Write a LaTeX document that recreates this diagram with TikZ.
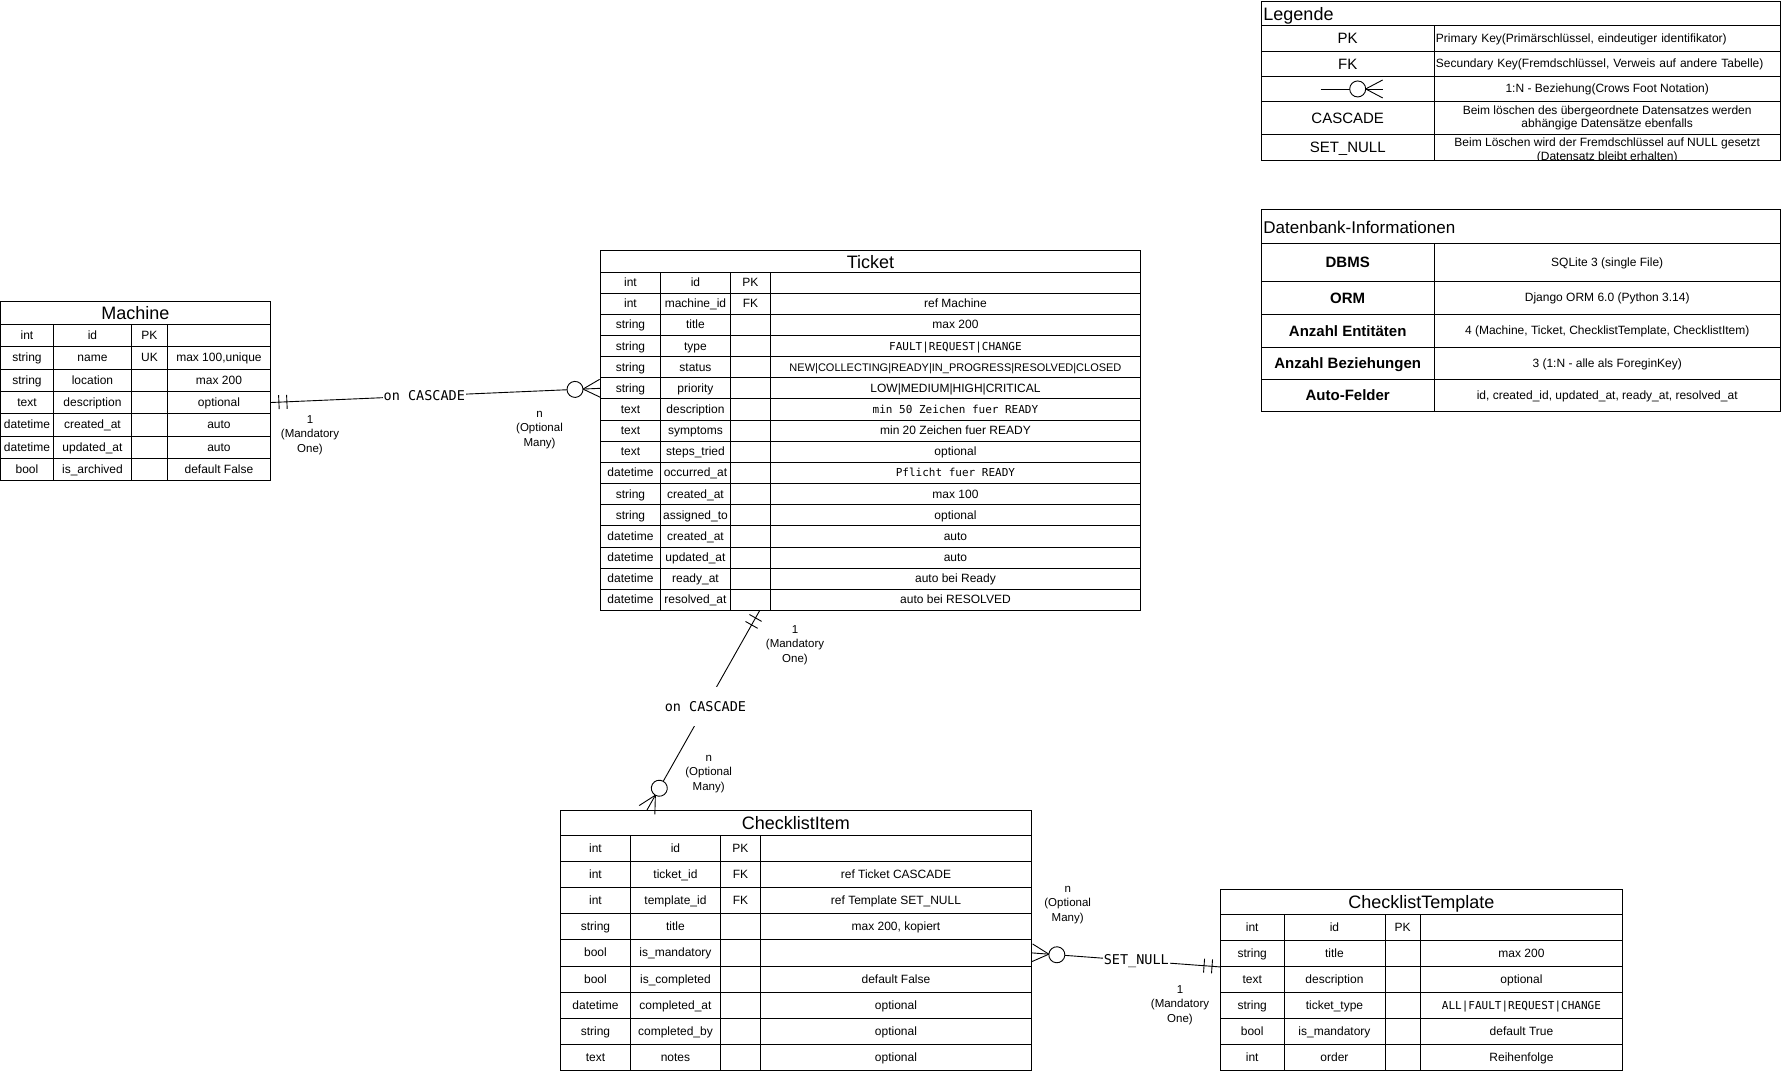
\documentclass[tikz,border=0pt]{standalone}
\usepackage{fontspec}
\setmainfont{Liberation Sans}
\newfontfamily\codefont{DejaVu Sans Mono}
\usetikzlibrary{decorations.markings}

\newcommand{\cellcode}[1]{{\codefont\fontsize{11}{13}\selectfont #1}}

\tikzset{
  cell/.style={draw, anchor=north west, inner sep=0pt, align=center, text height=9.2pt, text depth=1.2pt, font=\fontsize{12}{14}\selectfont},
  tabhead/.style={cell, text height=14pt, text depth=0pt, font=\fontsize{18}{20}\selectfont},
  keycell/.style={cell, text height=12pt, text depth=1pt, font=\fontsize{15}{17}\selectfont},
  twolines/.style={text height={}, text depth={}, font=\fontsize{12}{13.6}\selectfont},
  card/.style={align=center, font=\fontsize{11.5}{14.5}\selectfont},
  rel/.style={fill=white, inner xsep=1pt, inner ysep=14pt, font=\codefont\fontsize{13.5}{15}\selectfont},
  onebar/.style={postaction={decorate, decoration={markings,
      mark=at position 8pt with {\draw (0pt,-7pt) -- (0pt,7pt);},
      mark=at position 16pt with {\draw (0pt,-7pt) -- (0pt,7pt);}}}},
  crowfoot/.style={postaction={decorate, decoration={markings,
      mark=at position -17pt with {\draw[fill=white] (-8pt,0pt) circle (8pt);
        \draw (0pt,0pt) -- (17pt,9pt) (0pt,0pt) -- (17pt,-9pt);}}}},
}

\begin{document}
\begin{tikzpicture}[x=1pt, y=-1pt, line width=0.9pt]
\useasboundingbox (0,0) rectangle (1781,1071);

% Machine
\node[tabhead, minimum width=270pt, minimum height=23pt] (machine) at (0,301) {Machine};
\foreach [count=\i] \ftype/\fname/\fkey/\fnote in {int/id/PK/,
    string/name/UK/{max 100,unique},
    string/location//max 200,
    text/description//optional,
    datetime/created\_at//auto,
    datetime/updated\_at//auto,
    bool/is\_archived//default False}{
  \node[cell, minimum width=53pt, minimum height=22.3pt] (machine-\i-a) at (0,{324+(\i-1)*22.3}) {\ftype};
  \node[cell, minimum width=78pt, minimum height=22.3pt] (machine-\i-b) at (53,{324+(\i-1)*22.3}) {\fname};
  \node[cell, minimum width=36pt, minimum height=22.3pt] (machine-\i-c) at (131,{324+(\i-1)*22.3}) {\fkey};
  \node[cell, minimum width=103pt, minimum height=22.3pt] (machine-\i-d) at (167,{324+(\i-1)*22.3}) {\fnote};
}

% Ticket
\node[tabhead, minimum width=540pt, minimum height=21.5pt] (ticket) at (600,250) {Ticket};
\foreach [count=\i] \ftype/\fname/\fkey/\fnote in {int/id/PK/,
    int/machine\_id/FK/ref Machine,
    string/title//max 200,
    string/type//{\cellcode{FAULT|REQUEST|CHANGE}},
    string/status//{\fontsize{11}{13}\selectfont NEW|COLLECTING|READY|IN\_PROGRESS|RESOLVED|CLOSED},
    string/priority//LOW|MEDIUM|HIGH|CRITICAL,
    text/description//{\cellcode{min 50 Zeichen fuer READY}},
    text/symptoms//min 20 Zeichen fuer READY,
    text/steps\_tried//optional,
    datetime/occurred\_at//{\cellcode{Pflicht fuer READY}},
    string/created\_at//max 100,
    string/assigned\_to//optional,
    datetime/created\_at//auto,
    datetime/updated\_at//auto,
    datetime/ready\_at//auto bei Ready,
    datetime/resolved\_at//auto bei RESOLVED}{
  \node[cell, minimum width=60pt, minimum height=21.16pt] (ticket-\i-a) at (600,{271.5+(\i-1)*21.16}) {\ftype};
  \node[cell, minimum width=70pt, minimum height=21.16pt] (ticket-\i-b) at (660,{271.5+(\i-1)*21.16}) {\fname};
  \node[cell, minimum width=40pt, minimum height=21.16pt] (ticket-\i-c) at (730,{271.5+(\i-1)*21.16}) {\fkey};
  \node[cell, minimum width=370pt, minimum height=21.16pt] (ticket-\i-d) at (770,{271.5+(\i-1)*21.16}) {\fnote};
}

% ChecklistItem
\node[tabhead, minimum width=471pt, minimum height=25pt] (item) at (560,810) {ChecklistItem};
\foreach [count=\i] \ftype/\fname/\fkey/\fnote in {int/id/PK/,
    int/ticket\_id/FK/ref Ticket CASCADE,
    int/template\_id/FK/ref Template SET\_NULL,
    string/title//{max 200, kopiert},
    bool/is\_mandatory//,
    bool/is\_completed//default False,
    datetime/completed\_at//optional,
    string/completed\_by//optional,
    text/notes//optional}{
  \node[cell, minimum width=70pt, minimum height=26.1pt] (item-\i-a) at (560,{835+(\i-1)*26.1}) {\ftype};
  \node[cell, minimum width=90pt, minimum height=26.1pt] (item-\i-b) at (630,{835+(\i-1)*26.1}) {\fname};
  \node[cell, minimum width=40pt, minimum height=26.1pt] (item-\i-c) at (720,{835+(\i-1)*26.1}) {\fkey};
  \node[cell, minimum width=271pt, minimum height=26.1pt] (item-\i-d) at (760,{835+(\i-1)*26.1}) {\fnote};
}

% ChecklistTemplate
\node[tabhead, minimum width=402pt, minimum height=25pt] (tmpl) at (1220,889) {ChecklistTemplate};
\foreach [count=\i] \ftype/\fname/\fkey/\fnote in {int/id/PK/,
    string/title//max 200,
    text/description//optional,
    string/ticket\_type//{\cellcode{ALL|FAULT|REQUEST|CHANGE}},
    bool/is\_mandatory//default True,
    int/order//Reihenfolge}{
  \node[cell, minimum width=63.5pt, minimum height=26pt] (tmpl-\i-a) at (1220,{914+(\i-1)*26}) {\ftype};
  \node[cell, minimum width=101pt, minimum height=26pt] (tmpl-\i-b) at (1283.5,{914+(\i-1)*26}) {\fname};
  \node[cell, minimum width=35.5pt, minimum height=26pt] (tmpl-\i-c) at (1384.5,{914+(\i-1)*26}) {\fkey};
  \node[cell, minimum width=202pt, minimum height=26pt] (tmpl-\i-d) at (1420,{914+(\i-1)*26}) {\fnote};
}

% Legende
\node[tabhead, minimum width=519pt, minimum height=24.5pt, text width=515pt, inner xsep=2pt, align=left] (legend) at (1261,0.5) {Legende};
\node[keycell, minimum width=172.5pt, minimum height=25.5pt] (lg-pk) at (1261,25) {PK};
\node[cell, minimum width=346.5pt, minimum height=25.5pt, text width=342.5pt, inner xsep=2pt, align=left] (lg-pk-t) at (1433.5,25) {Primary Key(Primärschlüssel, eindeutiger identifikator)};
\node[keycell, minimum width=172.5pt, minimum height=25.5pt] (lg-fk) at (1261,50.5) {FK};
\node[cell, minimum width=346.5pt, minimum height=25.5pt, text width=342.5pt, inner xsep=2pt, align=left] (lg-fk-t) at (1433.5,50.5) {Secundary Key(Fremdschlüssel, Verweis auf andere Tabelle)};
\node[keycell, minimum width=172.5pt, minimum height=25pt] (lg-sym) at (1261,76) {};
\node[cell, minimum width=346.5pt, minimum height=25pt] (lg-sym-t) at (1433.5,76) {1:N - Beziehung(Crows Foot Notation)};
\node[keycell, minimum width=172.5pt, minimum height=33pt] (lg-casc) at (1261,101) {CASCADE};
\node[cell, twolines, minimum width=346.5pt, minimum height=33pt] (lg-casc-t) at (1433.5,101) {Beim löschen des übergeordnete Datensatzes werden\\abhängige Datensätze ebenfalls};
\node[keycell, minimum width=172.5pt, minimum height=26pt] (lg-null) at (1261,134) {SET\_NULL};
\node[cell, minimum width=346.5pt, minimum height=26pt] (lg-null-t) at (1433.5,134) {};
\begin{scope}
  \clip (lg-null-t.north west) rectangle (lg-null-t.south east);
  \node[cell, twolines, draw=none, anchor=north] (lg-null-txt) at ([yshift=-3.5pt]lg-null-t.north) {Beim Löschen wird der Fremdschlüssel auf NULL gesetzt\\(Datensatz bleibt erhalten)};
\end{scope}
\draw[crowfoot] ([xshift=-27pt]lg-sym.center) -- ([xshift=35pt]lg-sym.center);

% Datenbank-Informationen
\node[tabhead, minimum width=519pt, minimum height=34pt, text width=515pt, inner xsep=2pt, align=left, font=\fontsize{17}{19}\selectfont] (info) at (1261,209) {Datenbank-Informationen};
\foreach [count=\i] \ry/\rh/\lab/\val in {243/38/DBMS/SQLite 3 (single File),
    281/33/ORM/Django ORM 6.0 (Python 3.14),
    314/33/Anzahl Entitäten/{4 (Machine, Ticket, ChecklistTemplate, ChecklistItem)},
    347/32/Anzahl Beziehungen/3 (1:N - alle als ForeginKey),
    379/32/Auto-Felder/{id, created\_id, updated\_at, ready\_at, resolved\_at}}{
  \node[keycell, font=\bfseries\fontsize{15}{17}\selectfont, minimum width=172.5pt, minimum height=\rh pt] (info-\i-a) at (1261,\ry) {\lab};
  \node[cell, minimum width=346.5pt, minimum height=\rh pt] (info-\i-b) at (1433.5,\ry) {\val};
}

% Beziehungen
\draw[onebar, crowfoot] (machine-4-d.east) -- (ticket-6-a.west) node[rel, pos=.466] (rel1) {on CASCADE};
\draw[onebar, crowfoot] ([xshift=9pt]ticket-16-c.south) -- ([xshift=87pt]item.north west) node[rel, pos=.48] (rel2) {on CASCADE};
\draw[onebar, crowfoot] (tmpl-2-a.south west) -- (item-5-d.east) node[rel, pos=.445] (rel3) {SET\_NULL};

\node[card] (card1) at (310,435) {1\\(Mandatory\\One)};
\node[card] (card2) at (539.5,430) {n\\(Optional\\Many)};
\node[card] (card3) at (795,645) {1\\(Mandatory\\One)};
\node[card] (card4) at (708.7,774) {n\\(Optional\\Many)};
\node[card] (card5) at (1067.7,905) {n\\(Optional\\Many)};
\node[card] (card6) at (1180,1005) {1\\(Mandatory\\One)};
\end{tikzpicture}
\end{document}
